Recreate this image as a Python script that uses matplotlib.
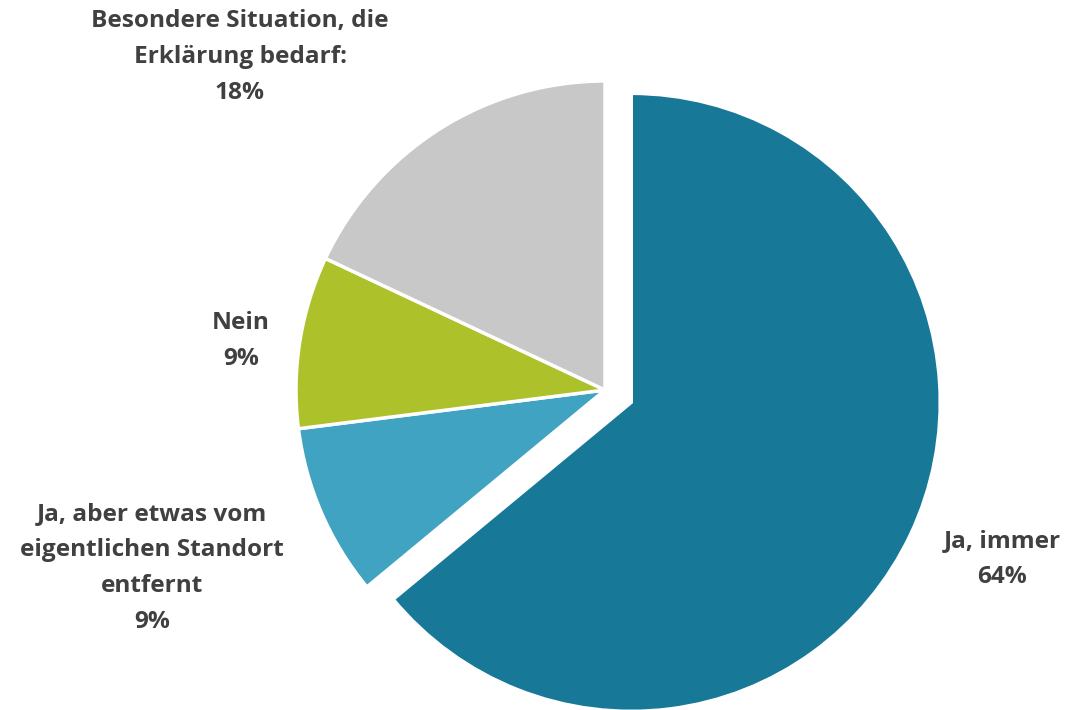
import matplotlib.pyplot as plt

# Daten
labels = ["Ja, immer",
          "Ja, aber etwas vom\neigentlichen Standort\nentfernt",
          "Nein",
          "Besondere Situation, die\nErklärung bedarf:"]
values = [64, 9, 9, 18]
colors = ["#187898", "#41a3c2", "#adc12a", "#c8c8c8"]
explode = [29, 0, 0, 0]  # in Pixeln, pie skaliert explode nicht mit radius

# Position der Beschriftungen (Pixel)
label_pos = [(1002, 559), (152, 568), (241, 341), (240, 57)]

W, H = 1071, 710
fig = plt.figure(figsize=(W / 100, H / 100), dpi=100)
ax = fig.add_axes([0, 0, 1, 1])

ax.pie(values, colors=colors, explode=explode, startangle=90,
       counterclock=False, center=(605, H - 390), radius=309,
       wedgeprops=dict(edgecolor="white", linewidth=2.5), frame=True)
ax.set_xlim(0, W)
ax.set_ylim(0, H)
ax.set_aspect("equal")
ax.axis("off")

for lab, v, (x, y) in zip(labels, values, label_pos):
    ax.text(x, H - y, f"{lab}\n{v}%", ha="center", va="center",
            fontsize=17.6, fontweight="bold", color="#404040",
            family="Open Sans", linespacing=1.65)

fig.savefig("out.png", dpi=100)
